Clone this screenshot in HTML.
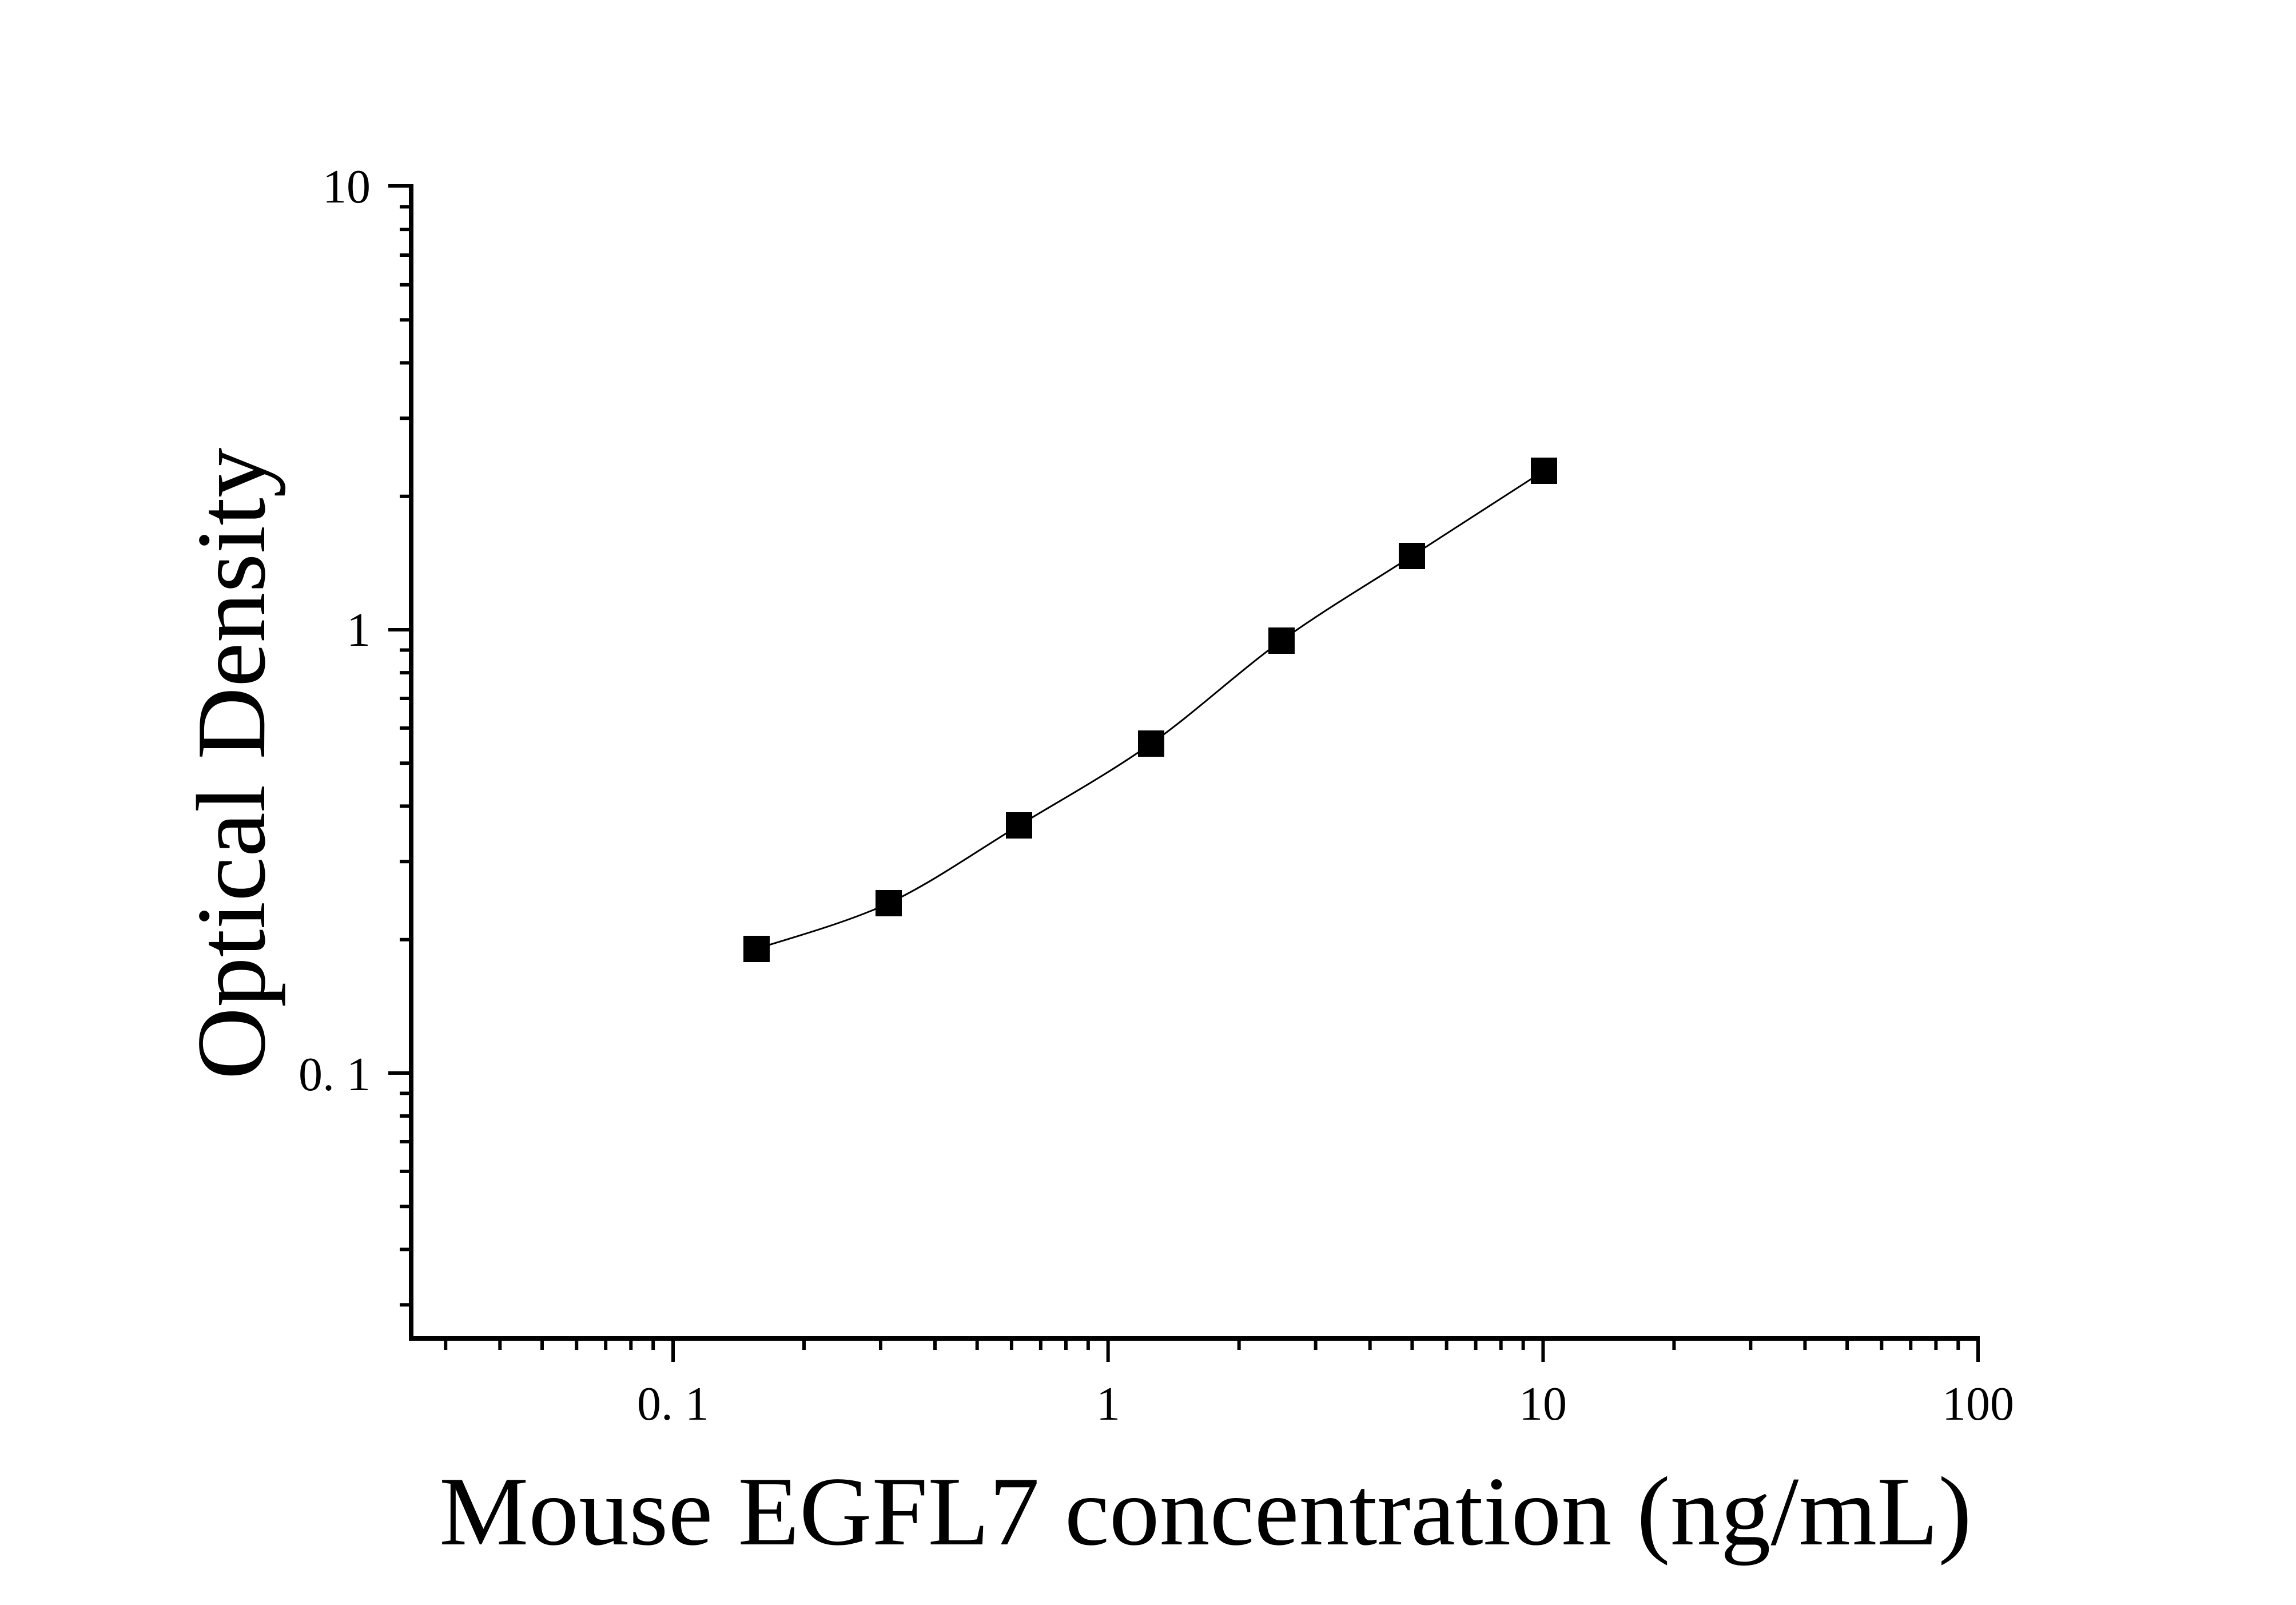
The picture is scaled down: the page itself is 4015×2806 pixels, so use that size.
<!DOCTYPE html>
<html><head><style>body{margin:0;background:#fff}svg{display:block}</style></head>
<body>
<svg id="s" width="4015" height="2806" xmlns="http://www.w3.org/2000/svg" font-family="Liberation Serif, serif">
<g id="ax" stroke="#000" fill="none"></g>
<path id="curve" stroke="#000" stroke-width="3" fill="none"/>
<g id="pts" fill="#000"></g>
<g font-size="84" fill="#000">
<text x="648" y="354" text-anchor="end">10</text>
<text x="648" y="1129" text-anchor="end">1</text>
<text x="648" y="1906" text-anchor="end" xml:space="preserve">0. 1</text>
<text x="1177" y="2482" text-anchor="middle" xml:space="preserve">0. 1</text>
<text x="1938" y="2482" text-anchor="middle">1</text>
<text x="2698" y="2482" text-anchor="middle">10</text>
<text x="3459" y="2482" text-anchor="middle">100</text>
</g>
<text x="2108" y="2700" font-size="172" text-anchor="middle" textLength="2680" lengthAdjust="spacingAndGlyphs">Mouse EGFL7 concentration (ng/mL)</text>
<text transform="translate(462,1335) rotate(-90)" font-size="172" text-anchor="middle" textLength="1105" lengthAdjust="spacingAndGlyphs">Optical Density</text>
</svg>
<script>
var ax=document.getElementById('ax'),h='';
function L(x1,y1,x2,y2,w){h+='<line x1="'+x1+'" y1="'+y1+'" x2="'+x2+'" y2="'+y2+'" stroke-width="'+w+'"/>';}
L(719,322,719,2344,8);L(715,2340,3462,2340,8);
var X0=1177,XD=760.7,Y0=1876,YD=775;
function xp(v){return X0+XD*(Math.log10(v)+1);}
function yp(v){return Y0-YD*(Math.log10(v)+1);}
for(var d=-2;d<=1;d++)for(var m=1;m<10;m++){var v=m*Math.pow(10,d);if(v<0.026||v>100)continue;var x=xp(v);if(m==1)L(x,2340,x,2381,6);else L(x,2340,x,2360,6);}
L(3459,2340,3459,2381,6);
for(var d=-2;d<=0;d++)for(var m=1;m<10;m++){var v=m*Math.pow(10,d);if(v<0.027)continue;var y=yp(v);if(m==1)L(679,y,719,y,6);else L(699,y,719,y,6);}
L(679,325,719,325,6);
ax.innerHTML=h;
var P=[[1323,1659],[1554,1579],[1782,1443],[2013,1300],[2241,1120],[2469,972],[2700,823]];
var g='';P.forEach(function(p){g+='<rect x="'+(p[0]-23)+'" y="'+(p[1]-23)+'" width="46" height="46"/>';});
document.getElementById('pts').innerHTML=g;
var d='M'+P[0][0]+','+P[0][1];
for(var i=0;i<P.length-1;i++){var p0=P[Math.max(i-1,0)],p1=P[i],p2=P[i+1],p3=P[Math.min(i+2,P.length-1)];
d+=' C'+(p1[0]+(p2[0]-p0[0])/6)+','+(p1[1]+(p2[1]-p0[1])/6)+' '+(p2[0]-(p3[0]-p1[0])/6)+','+(p2[1]-(p3[1]-p1[1])/6)+' '+p2[0]+','+p2[1];}
document.getElementById('curve').setAttribute('d',d);
</script>
</body></html>
